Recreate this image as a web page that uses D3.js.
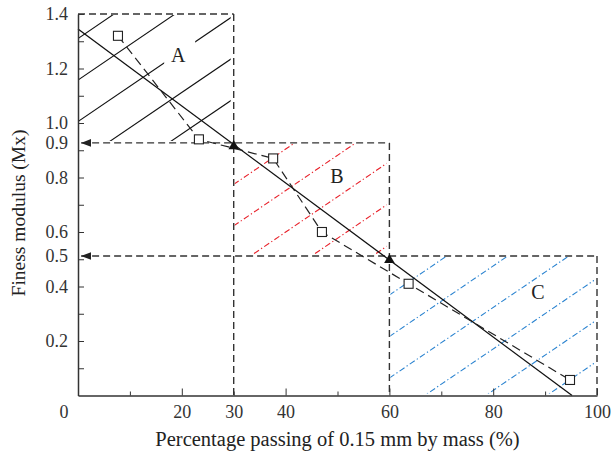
<!DOCTYPE html>
<html>
<head>
<meta charset="utf-8">
<script src="https://cdn.jsdelivr.net/npm/d3@7"></script>
<style>
  body { margin: 0; background: #fff; }
  svg { display: block; }
  .axis path, .axis line { stroke: #333; }
  .axis text { font-family: "Liberation Serif", serif; font-size: 18px; fill: #333; }
</style>
</head>
<body>
<div id="chart"></div>
<script>
// measured points (open squares)
const measuredP = [7.7, 23.3, 37.6, 47.0, 63.7, 94.8];
const measuredMx = [1.32, 0.94, 0.87, 0.60, 0.41, 0.057];

// fitted straight line
const fitP = [0, 95.2];
const fitMx = [1.345, 0];

// zone corners (filled triangles)
const cornerP = [30, 60];
const cornerMx = [0.915, 0.497];

// zone boundaries
const zoneNames = ["A", "B", "C"];
const zoneP0 = [0, 30, 60];
const zoneP1 = [30, 60, 100];
const zoneMxLow = [0.927, 0.512, 0];
const zoneMxHigh = [1.4, 0.927, 0.512];
const zoneLabelP = [19.3, 49.9, 88.6];
const zoneLabelMx = [1.25, 0.805, 0.38];

// ticks
const xMajorTicks = [20, 40, 60, 80, 100];
const xMinorTicks = [10, 30, 50, 70, 90];
const xLabelValues = [20, 30, 40, 60, 80, 100];
const yTickValues = [0.1, 0.2, 0.3, 0.4, 0.5, 0.6, 0.7, 0.8, 0.9, 1.0, 1.1, 1.2, 1.3, 1.4];
const yLabelValues = [0.2, 0.4, 0.512, 0.6, 0.8, 0.927, 1.0, 1.2, 1.4];
const yLabelText = ["0.2", "0.4", "0.5", "0.6", "0.8", "0.9", "1.0", "1.2", "1.4"];

const W = 611, H = 456;
const margin = { top: 14, right: 14, bottom: 60, left: 78 };

const svg = d3.select("#chart").append("svg")
  .attr("width", W)
  .attr("height", H);

const x = d3.scaleLinear().domain([0, 100]).range([margin.left, 597]);
const y = d3.scaleLinear().domain([0, 1.4]).range([395.5, 14]);

const font = "Liberation Serif, serif";

// hatching inside each zone
const hatch = [
  { stroke: "#111", dash: null, width: 1.1, phase: 38.5 },
  { stroke: "#e8212a", dash: "6,2.5,1.3,2.5", width: 1.1, phase: 184.4 },
  { stroke: "#2a83d0", dash: "6,2.5,1.3,2.5", width: 1.1, phase: 295 }
];
const slope = 0.68, spacing = 41.5;

const defs = svg.append("defs");
zoneNames.forEach(function (name, i) {
  const x0 = x(zoneP0[i]), x1 = x(zoneP1[i]);
  const yTop = y(zoneMxHigh[i]), yBot = y(zoneMxLow[i]);
  defs.append("clipPath").attr("id", "clip" + name)
    .append("rect")
    .attr("x", x0 + 1).attr("y", yTop + 1)
    .attr("width", x1 - x0 - 4).attr("height", yBot - yTop - 3);

  const g = svg.append("g").attr("clip-path", "url(#clip" + name + ")");
  const h = hatch[i];
  const offsets = [];
  for (let c = h.phase - spacing * 10; c < yBot + slope * (x1 - x0) + spacing; c += spacing) {
    offsets.push(c);
  }
  g.selectAll("line")
    .data(offsets)
    .enter().append("line")
    .attr("x1", x0)
    .attr("y1", d => d)
    .attr("x2", x1)
    .attr("y2", d => d - slope * (x1 - x0))
    .attr("stroke", h.stroke)
    .attr("stroke-width", h.width)
    .attr("stroke-dasharray", h.dash);
});

// gap in the hatching behind label A
svg.append("rect")
  .attr("x", x(zoneLabelP[0]) - 14).attr("y", y(zoneLabelMx[0]) - 14)
  .attr("width", 31).attr("height", 26)
  .attr("fill", "#fff");

// dashed zone outlines
const dashStyle = "7,4";
const boxColor = "#333";
function dashed(p0, m0, p1, m1) {
  svg.append("line")
    .attr("x1", x(p0)).attr("y1", y(m0))
    .attr("x2", x(p1)).attr("y2", y(m1))
    .attr("stroke", boxColor)
    .attr("stroke-width", 1.4)
    .attr("stroke-dasharray", dashStyle);
}
dashed(0, zoneMxHigh[0], zoneP1[0], zoneMxHigh[0]);
dashed(zoneP1[0], zoneMxHigh[0], zoneP1[0], 0);
dashed(0.6, zoneMxLow[0], zoneP1[1], zoneMxLow[0]);
dashed(zoneP1[1], zoneMxHigh[1], zoneP1[1], 0);
dashed(0.6, zoneMxLow[1], zoneP1[2], zoneMxLow[1]);
dashed(zoneP1[2], zoneMxHigh[2], zoneP1[2], 0);

// arrow heads at the left end of the horizontal boundaries
[zoneMxLow[0], zoneMxLow[1]].forEach(function (m) {
  const ax = x(0) + 3, ay = y(m);
  svg.append("path")
    .attr("d", "M" + ax + "," + ay + "L" + (ax + 10) + "," + (ay - 3.8) + "L" + (ax + 10) + "," + (ay + 3.8) + "Z")
    .attr("fill", "#222");
});

// fitted line
svg.append("path")
  .datum(fitP.map((p, i) => [p, fitMx[i]]))
  .attr("fill", "none")
  .attr("stroke", "#111")
  .attr("stroke-width", 1.3)
  .attr("d", d3.line().x(d => x(d[0])).y(d => y(d[1])));

// measured line
const measured = measuredP.map((p, i) => [p, measuredMx[i]]);
svg.append("path")
  .datum(measured)
  .attr("fill", "none")
  .attr("stroke", "#222")
  .attr("stroke-width", 1.2)
  .attr("stroke-dasharray", "9,5")
  .attr("d", d3.line().x(d => x(d[0])).y(d => y(d[1])));

svg.selectAll(".sq")
  .data(measured)
  .enter().append("rect")
  .attr("class", "sq")
  .attr("x", d => x(d[0]) - 4.5)
  .attr("y", d => y(d[1]) - 4.5)
  .attr("width", 9).attr("height", 9)
  .attr("fill", "#fff")
  .attr("stroke", "#222")
  .attr("stroke-width", 1.1);

svg.selectAll(".tri")
  .data(cornerP.map((p, i) => [p, cornerMx[i]]))
  .enter().append("path")
  .attr("class", "tri")
  .attr("transform", d => "translate(" + x(d[0]) + "," + y(d[1]) + ")")
  .attr("d", d3.symbol().type(d3.symbolTriangle).size(48))
  .attr("fill", "#111");

// zone labels
svg.selectAll(".zl")
  .data(zoneNames)
  .enter().append("text")
  .attr("class", "zl")
  .attr("x", (d, i) => x(zoneLabelP[i]))
  .attr("y", (d, i) => y(zoneLabelMx[i]))
  .attr("dy", "0.35em")
  .attr("text-anchor", "middle")
  .style("font-family", font)
  .style("font-size", "20px")
  .style("fill", "#222")
  .text(d => d);

// axes
const bottom = y(0);
svg.append("g").attr("class", "axis")
  .attr("transform", "translate(0," + bottom + ")")
  .call(d3.axisBottom(x).tickValues(xMajorTicks).tickSize(-7).tickSizeOuter(0).tickFormat(""))
  .selectAll("path").attr("stroke-width", 1.5);
svg.append("g").attr("class", "axis")
  .attr("transform", "translate(0," + bottom + ")")
  .call(d3.axisBottom(x).tickValues(xMinorTicks).tickSize(-4).tickSizeOuter(0).tickFormat(""))
  .call(g => g.select(".domain").remove());
svg.append("g").attr("class", "axis")
  .attr("transform", "translate(0," + bottom + ")")
  .call(d3.axisBottom(x).tickValues(xLabelValues).tickSize(0).tickPadding(10))
  .call(g => g.select(".domain").remove());

svg.append("text")
  .attr("x", x(0) - 14)
  .attr("y", bottom + 10)
  .attr("dy", "0.71em")
  .attr("text-anchor", "middle")
  .style("font-family", font)
  .style("font-size", "18px")
  .style("fill", "#333")
  .text("0");

svg.append("g").attr("class", "axis")
  .attr("transform", "translate(" + x(0) + ",0)")
  .call(d3.axisLeft(y).tickValues(yTickValues).tickSize(-6).tickSizeOuter(0).tickFormat(""))
  .selectAll("path").attr("stroke-width", 1.5);
svg.append("g").attr("class", "axis")
  .attr("transform", "translate(" + x(0) + ",0)")
  .call(d3.axisLeft(y).tickValues(yLabelValues).tickSize(0).tickPadding(10)
    .tickFormat((d, i) => yLabelText[i]))
  .call(g => g.select(".domain").remove());

// axis titles
svg.append("text")
  .attr("x", x(50))
  .attr("y", 446)
  .attr("text-anchor", "middle")
  .style("font-family", font)
  .style("font-size", "20.5px")
  .style("fill", "#222")
  .text("Percentage passing of 0.15 mm by mass (%)");

svg.append("text")
  .attr("transform", "translate(25,213) rotate(-90)")
  .attr("text-anchor", "middle")
  .style("font-family", font)
  .style("font-size", "19.5px")
  .style("fill", "#222")
  .text("Finess modulus (Mx)");
</script>
</body>
</html>
